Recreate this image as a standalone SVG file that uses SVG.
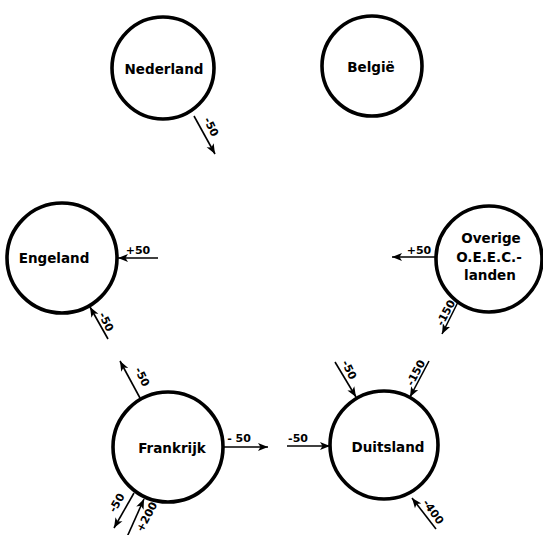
<svg xmlns="http://www.w3.org/2000/svg" width="543" height="535" viewBox="0 0 543 535">
<style>
.node{fill:#fff;stroke:#000;stroke-width:3.6}
.name{font-family:"DejaVu Sans",sans-serif;font-weight:bold;font-size:13.5px;fill:#000;text-anchor:middle;dominant-baseline:central}
.num{font-family:"DejaVu Sans",sans-serif;font-weight:bold;font-size:11px;fill:#000;text-anchor:middle;dominant-baseline:central}
.arr{stroke:#000;stroke-width:1.6;fill:none;marker-end:url(#ah)}
</style>
<defs>
<marker id="ah" markerUnits="userSpaceOnUse" markerWidth="11" markerHeight="9" refX="10" refY="4.5" orient="auto">
<path d="M0,0.5 L10,4.5 L0,8.5 L2.5,4.5 Z" fill="#000"/>
</marker>
</defs>
<rect width="543" height="535" fill="#fff"/>
<g id="nederland"><circle class="node" cx="163" cy="68" r="51"/><text class="name" x="164" y="69">Nederland</text></g>
<g id="belgie"><circle class="node" cx="372" cy="66" r="50"/><text class="name" x="371" y="67">België</text></g>
<g id="engeland"><circle class="node" cx="62" cy="258" r="55"/><text class="name" x="54" y="258">Engeland</text></g>
<g id="overige"><circle class="node" cx="489" cy="259" r="53"/>
<text class="name" x="491" y="238">Overige</text><text class="name" x="489" y="257">O.E.E.C.-</text><text class="name" x="490" y="275">landen</text></g>
<g id="frankrijk"><circle class="node" cx="168" cy="447" r="55"/><text class="name" x="172" y="448">Frankrijk</text></g>
<g id="duitsland"><circle class="node" cx="384" cy="445" r="54"/><text class="name" x="388" y="447">Duitsland</text></g>
<g id="connectors">
<line class="arr" x1="194" y1="116" x2="215" y2="154"/>
<text class="num" transform="translate(211,127) rotate(64)">-50</text>
<line class="arr" x1="158" y1="258" x2="118" y2="258"/>
<text class="num" x="138" y="250">+50</text>
<line class="arr" x1="108" y1="339" x2="90" y2="307"/>
<text class="num" transform="translate(106,322) rotate(64)">-50</text>
<line class="arr" x1="435" y1="257" x2="392" y2="257"/>
<text class="num" x="419" y="250">+50</text>
<line class="arr" x1="458" y1="302" x2="442" y2="334"/>
<text class="num" transform="translate(446,313) rotate(-62)">-150</text>
<line class="arr" x1="140" y1="398" x2="120" y2="361"/>
<text class="num" transform="translate(142,377) rotate(64)">-50</text>
<line class="arr" x1="223" y1="447" x2="268" y2="447"/>
<text class="num" x="239" y="438">- 50</text>
<line class="arr" x1="134" y1="493" x2="114" y2="528"/>
<text class="num" transform="translate(117,503) rotate(-60)">-50</text>
<line class="arr" x1="127" y1="537" x2="144" y2="499"/>
<text class="num" transform="translate(147,517) rotate(-62)">+200</text>
<line class="arr" x1="287" y1="446" x2="330" y2="446"/>
<text class="num" x="298" y="438">-50</text>
<line class="arr" x1="335" y1="362" x2="356" y2="397"/>
<text class="num" transform="translate(349,370) rotate(64)">-50</text>
<line class="arr" x1="429" y1="361" x2="410" y2="397"/>
<text class="num" transform="translate(416,373) rotate(-62)">-150</text>
<line class="arr" x1="436" y1="529" x2="412" y2="498"/>
<text class="num" transform="translate(433,512) rotate(55)">-400</text>
</g>
</svg>
